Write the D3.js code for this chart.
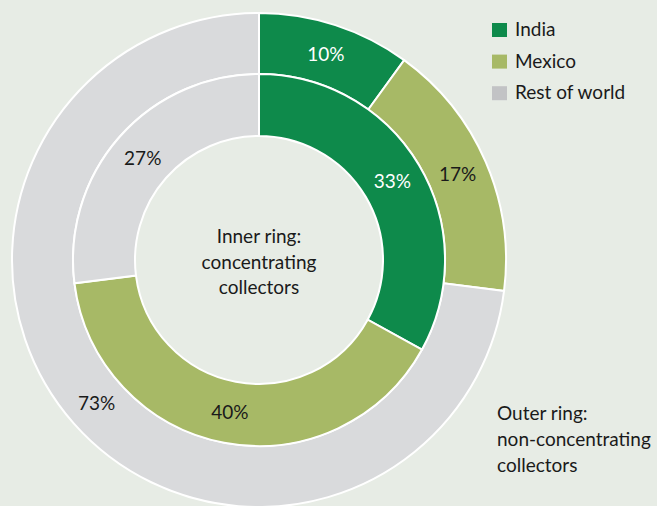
<!DOCTYPE html>
<html>
<head>
<meta charset="utf-8">
<script src="https://cdn.jsdelivr.net/npm/d3@7"></script>
<style>
  html, body { margin: 0; padding: 0; background: #e7ece5; }
  svg { display: block; font-family: Lato, "Open Sans", sans-serif; }
</style>
</head>
<body>
<div id="chart"></div>
<script>
// Data
const categories = ["India", "Mexico", "Rest of world"];
const innerValues = [33, 40, 27];   // concentrating collectors
const outerValues = [10, 17, 73];   // non-concentrating collectors
const innerLabel = ["Inner ring:", "concentrating", "collectors"];
const outerLabel = ["Outer ring:", "non-concentrating", "collectors"];

const width = 657;
const height = 506;
const cx = 259, cy = 260;
const fontSize = 19;

const color = d3.scaleOrdinal()
  .domain(categories)
  .range(["#0e8a4b", "#a7b966", "#d9dadc"]);
const legendColor = d3.scaleOrdinal()
  .domain(categories)
  .range(["#0e8a4b", "#a7b966", "#c2c3c5"]);
const labelColor = d3.scaleOrdinal()
  .domain(categories)
  .range(["#ffffff", "#1a1a1a", "#1a1a1a"]);

const svg = d3.select("#chart").append("svg")
  .attr("width", width)
  .attr("height", height);

const pie = d3.pie().sort(null).value(d => d.value);

function drawRing(values, r0, r1) {
  const data = pie(values.map((v, i) => ({ cat: categories[i], value: v })));
  const arc = d3.arc().innerRadius(r0).outerRadius(r1);
  const g = svg.append("g").attr("transform", `translate(${cx},${cy})`);

  g.selectAll("path")
    .data(data)
    .enter().append("path")
    .attr("d", arc)
    .attr("fill", d => color(d.data.cat))
    .attr("stroke", "#fff")
    .attr("stroke-width", 2);

  g.selectAll("text")
    .data(data)
    .enter().append("text")
    .attr("transform", d => `translate(${arc.centroid(d)})`)
    .attr("text-anchor", "middle")
    .attr("dy", "0.38em")
    .attr("font-size", fontSize)
    .attr("fill", d => labelColor(d.data.cat))
    .text(d => d.data.value + "%");
}

drawRing(outerValues, 186, 247);
drawRing(innerValues, 124, 186);

// centre text
svg.append("text")
  .attr("x", cx)
  .attr("y", 243)
  .attr("text-anchor", "middle")
  .attr("font-size", fontSize)
  .attr("fill", "#1a1a1a")
  .selectAll("tspan")
  .data(innerLabel)
  .enter().append("tspan")
  .attr("x", cx)
  .attr("dy", (d, i) => i === 0 ? 0 : 25.7)
  .text(d => d);

// outer ring note
svg.append("text")
  .attr("x", 497)
  .attr("y", 420)
  .attr("font-size", fontSize)
  .attr("fill", "#1a1a1a")
  .selectAll("tspan")
  .data(outerLabel)
  .enter().append("tspan")
  .attr("x", 497)
  .attr("dy", (d, i) => i === 0 ? 0 : 25.8)
  .text(d => d);

// legend
const legend = svg.append("g")
  .selectAll("g")
  .data(categories)
  .enter().append("g")
  .attr("transform", (d, i) => `translate(492,${23 + i * 31.6})`);

legend.append("rect")
  .attr("width", 15)
  .attr("height", 14)
  .attr("fill", d => legendColor(d));

legend.append("text")
  .attr("x", 23)
  .attr("y", 13)
  .attr("font-size", fontSize)
  .attr("fill", "#1a1a1a")
  .text(d => d);
</script>
</body>
</html>
